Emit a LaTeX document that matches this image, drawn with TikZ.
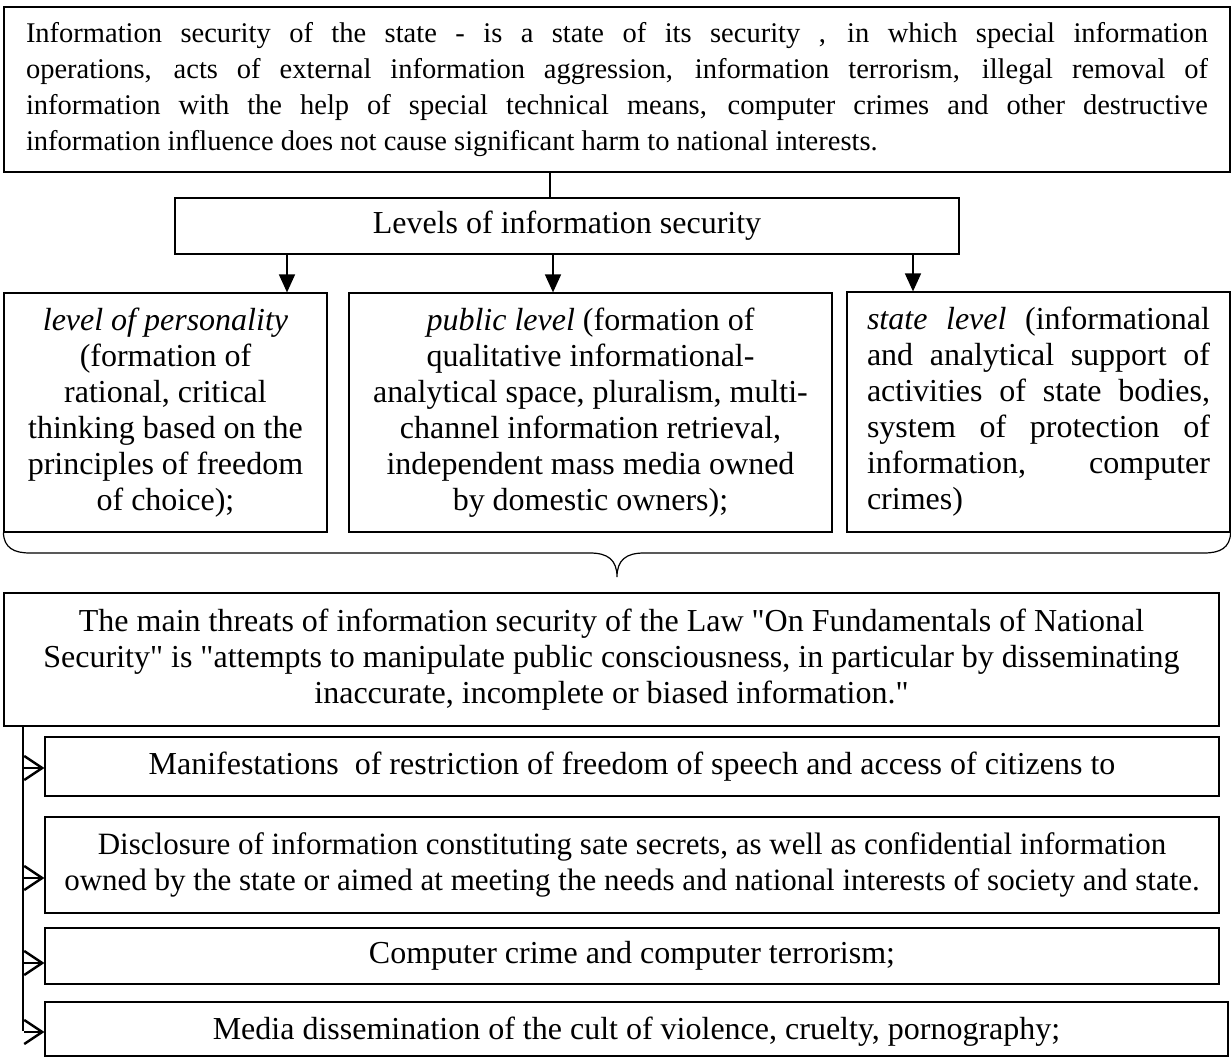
\documentclass[tikz,border=0pt]{standalone}
\usepackage{fontspec}
\setmainfont{Liberation Serif}[Ligatures=TeXOff]
\usetikzlibrary{arrows.meta}
\newcommand\bodyfont{\fontsize{32}{36}\selectfont}
\newcommand\leadfont{\fontsize{28.5}{36.3}\selectfont}
\newcommand\narrowfont{\fontsize{31}{36}\selectfont}
\begin{document}
\begin{tikzpicture}[x=1pt,y=-1pt,
  box/.style={draw, line width=1.2pt, inner sep=0pt, font=\bodyfont},
  cbox/.style={box, align=center},
  down/.style={line width=1.6pt, -{Triangle[length=18pt,width=16pt]}},
  chev/.style={line width=2.4pt, -{Straight Barb[length=18pt,width=24pt]}},
  wire/.style={line width=1.2pt}]
\useasboundingbox[fill=white] (0,0) rectangle (1231,1057);

% definition of the notion
\node[box, font=\leadfont, text width=1182pt, inner xsep=22pt, minimum height=165pt, align=justify] (top) at (617,89.5)
  {Information security of the state - is a state of its security , in which special information\linebreak
   operations, acts of external information aggression, information terrorism, illegal removal of\linebreak
   information with the help of special technical means, computer crimes and other destructive\linebreak
   information influence does not cause significant harm to national interests.};

% levels
\node[cbox, minimum width=784pt, minimum height=56pt] (lev) at (567,226) {Levels of information security};

\node[cbox, minimum width=323pt, minimum height=239pt] (p1) at (165.5,412.5)
  {\textit{level of personality}\\(formation of\\rational, critical\\thinking based on the\\principles of freedom\\of choice);};
\node[cbox, minimum width=483pt, minimum height=239pt] (p2) at (590.5,412.5)
  {\textit{public level} (formation of\\qualitative informational-\\analytical space, pluralism, multi-\\channel information retrieval,\\independent mass media owned\\by domestic owners);};
\node[box, text width=343pt, inner xsep=20pt, minimum height=240pt, align=justify] (p3) at (1038.5,412)
  {\textit{state level} (informational\linebreak and analytical support of\linebreak activities of state bodies,\linebreak system of protection of\linebreak information, computer\linebreak crimes)};

\coordinate (xa) at (550,0);
\coordinate (x1) at (287,0);
\coordinate (x2) at (553,0);
\coordinate (x3) at (913,0);
\draw[wire] (top.south -| xa) -- (lev.north -| xa);
\draw[down] (lev.south -| x1) -- (p1.north -| x1);
\draw[down] (lev.south -| x2) -- (p2.north -| x2);
\draw[down] (lev.south -| x3) -- (p3.north -| x3);

% brace under the three levels
\draw[wire] (p1.south west) .. controls (4,548) and (14,553) .. (30,553) -- (590,553)
  .. controls (608,553) and (617,560) .. (617,577)
  .. controls (617,560) and (626,553) .. (644,553) -- (1204,553)
  .. controls (1220,553) and (1230,548) .. (p3.south east);

% threats
\node[cbox, minimum width=1215pt, minimum height=133pt] (thr) at (611.5,659.5)
  {The main threats of information security of the Law "On Fundamentals of National\\Security" is "attempts to manipulate public consciousness, in particular by disseminating\\inaccurate, incomplete or biased information."};

\node[cbox, minimum width=1174pt, minimum height=59pt] (ta) at (632,766.5)
  {Manifestations\ \ of restriction of freedom of speech and access of citizens to};
\node[cbox, font=\narrowfont, minimum width=1174pt, minimum height=96pt] (tb) at (632,865)
  {Disclosure of information constituting sate secrets, as well as confidential information\\owned by the state or aimed at meeting the needs and national interests of society and state.};
\node[cbox, minimum width=1174pt, minimum height=56pt] (tc) at (632,956)
  {Computer crime and computer terrorism;};
\node[cbox, minimum width=1183pt, minimum height=54pt, text depth=2pt] (td) at (636.5,1029)
  {Media dissemination of the cult of violence, cruelty, pornography;};

\coordinate (vb) at (23,1031);
\draw[wire, line width=1.6pt] (thr.south -| vb) -- (vb);
\coordinate (ca) at (24,768);
\coordinate (cb) at (24,878);
\coordinate (cc) at (24,963);
\coordinate (cd) at (24,1032);
\draw[chev] (ca) -- (ca -| ta.west);
\draw[chev] (cb) -- (cb -| tb.west);
\draw[chev] (cc) -- (cc -| tc.west);
\draw[chev] (cd) -- (cd -| td.west);
\end{tikzpicture}
\end{document}
